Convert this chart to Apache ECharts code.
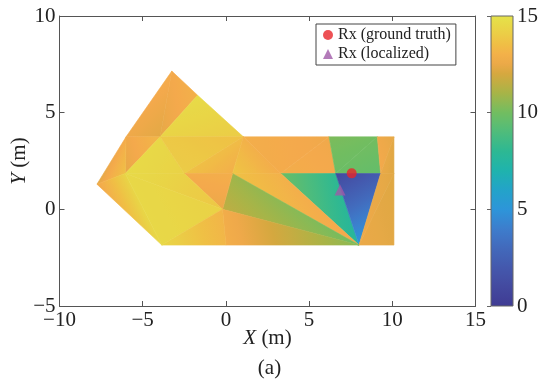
<!DOCTYPE html>
<html>
<head>
<meta charset="utf-8">
<script src="https://cdn.jsdelivr.net/npm/echarts@6/dist/echarts.min.js"></script>
<style>
  html, body { margin: 0; background: #fff; }
  #chart { width: 539px; height: 385px; }
</style>
</head>
<body>
<div id="chart"></div>
<script>
// mesh vertices (m)
const vx = [-7.75, -6.00, -3.25, -1.70, 1.05, -3.95, -6.05, -3.85, -0.20, -2.50, 0.40,
            3.30, 6.20, 9.10, 10.10, 6.60, 9.30, 10.10, 10.10, 8.00, 0.00]
const vy = [1.30, 3.75, 7.15, 5.90, 3.75, 3.75, 1.85, -1.85, 0.00, 1.85, 1.85,
            1.85, 3.75, 3.75, 3.75, 1.85, 1.85, 1.85, -1.85, -1.85, -1.85]
// triangles (vertex indices) and corner values
const tris = [
  [2, 3, 5], [2, 5, 1], [3, 4, 5], [1, 5, 6], [5, 9, 6], [5, 4, 9], [4, 10, 9],
  [4, 11, 10], [4, 12, 11], [12, 15, 11], [12, 13, 15], [13, 16, 15], [13, 14, 16],
  [14, 17, 16], [11, 15, 19], [15, 16, 19], [16, 17, 19], [17, 18, 19], [10, 11, 19],
  [8, 10, 19], [8, 19, 20], [9, 8, 10], [0, 1, 6], [0, 6, 7], [6, 9, 8], [6, 8, 7],
  [7, 8, 20]
]
const triVals = [
  [12.7, 13.0, 12.4], [12.8, 12.3, 12.6], [14.6, 14.0, 14.3], [12.6, 13.2, 12.4],
  [14.5, 14.2, 14.6], [13.9, 13.6, 14.0], [13.4, 12.9, 13.6], [13.0, 12.8, 13.8],
  [12.9, 12.6, 12.8], [12.6, 12.7, 12.9], [10.2, 10.0, 9.8], [10.0, 9.6, 9.8],
  [12.6, 12.4, 12.7], [12.3, 12.2, 12.5], [9.8, 8.0, 7.6], [1.0, 2.2, 5.2],
  [12.4, 12.3, 12.6], [12.2, 12.3, 12.5], [13.6, 13.0, 12.6], [11.5, 10.8, 10.0],
  [12.8, 10.4, 12.9], [12.8, 12.5, 12.9], [12.3, 12.8, 13.6], [12.6, 14.3, 14.5],
  [14.6, 14.2, 13.8], [14.5, 14.2, 14.5], [14.4, 13.1, 13.2]
]
const rxTrue = [[7.56, 1.86]]
const rxLoc = [[6.86, 1.0]]
const cbarRange = [0, 15]

// colormap sampled off the colour bar
const cmapVals = [0, 1, 2, 3, 4, 5, 6, 7, 8, 9, 10, 11, 12, 12.7, 13.5, 14.3, 15]
const cmapColors = ['#3f3b93', '#43499f', '#4458ad', '#4269bb', '#3d7dcc', '#2d95d9',
  '#23a3c9', '#1fb3ad', '#2db893', '#4fbc7b', '#72bd60', '#a7b447', '#d6a83f',
  '#f4a94c', '#f0be45', '#e9d446', '#e5e34a']

function hex(c) { return [1, 3, 5].map(i => parseInt(c.slice(i, i + 2), 16)) }
const cmapRgb = cmapColors.map(hex)

function cmap(v) {
  v = Math.max(cmapVals[0], Math.min(cmapVals[cmapVals.length - 1], v))
  let i = 0
  while (i < cmapVals.length - 2 && v > cmapVals[i + 1]) i++
  const t = (v - cmapVals[i]) / (cmapVals[i + 1] - cmapVals[i])
  const a = cmapRgb[i], b = cmapRgb[i + 1]
  return 'rgb(' + a.map((x, j) => Math.round(x + (b[j] - x) * t)).join(',') + ')'
}

// linear gradient across a triangle following its value slope
function triFill(p, v) {
  const [x0, y0] = p[0], [x1, y1] = p[1], [x2, y2] = p[2]
  const det = (x1 - x0) * (y2 - y0) - (x2 - x0) * (y1 - y0)
  const lo = Math.min(...v), hi = Math.max(...v)
  if (Math.abs(det) < 1e-9 || hi - lo < 0.05) return cmap((lo + hi) / 2)
  const a = ((v[1] - v[0]) * (y2 - y0) - (v[2] - v[0]) * (y1 - y0)) / det
  const b = ((x1 - x0) * (v[2] - v[0]) - (x2 - x0) * (v[1] - v[0])) / det
  const g2 = a * a + b * b
  const s0 = (lo - v[0]) / g2, s1 = (hi - v[0]) / g2
  const stops = []
  for (let i = 0; i <= 8; i++) stops.push({ offset: i / 8, color: cmap(lo + (hi - lo) * i / 8) })
  return new echarts.graphic.LinearGradient(x0 + a * s0, y0 + b * s0, x0 + a * s1, y0 + b * s1, stops, true)
}

const serif = 'Liberation Serif'
const minus = v => (v < 0 ? '\u2212' + Math.abs(v) : String(v))
const axisLine = { onZero: false, lineStyle: { color: '#555', width: 1 } }
const tick = { inside: true, length: 5, lineStyle: { color: '#555' } }
const label = { fontFamily: serif, fontSize: 21, color: '#222', formatter: minus }
const nameStyle = {
  fontFamily: serif, fontSize: 21, color: '#222',
  rich: { i: { fontFamily: serif, fontSize: 21, fontStyle: 'italic', color: '#222' } }
}

const chart = echarts.init(document.getElementById('chart'))

chart.setOption({
  animation: false,
  title: {
    text: '(a)', left: 'center', top: 353,
    textStyle: { fontFamily: serif, fontSize: 21, fontWeight: 'normal', color: '#222' }
  },
  legend: {
    data: [{ name: 'Rx (ground truth)', icon: 'circle' }, { name: 'Rx (localized)', icon: 'triangle' }],
    orient: 'vertical', left: 316, top: 24,
    borderColor: '#444', borderWidth: 1, backgroundColor: '#fff',
    padding: [3, 5, 3, 7], itemWidth: 10, itemHeight: 10, itemGap: 3,
    textStyle: { fontFamily: serif, fontSize: 16, color: '#222' }
  },
  grid: [
    { left: 59.5, top: 16, width: 416, height: 290, outerBoundsMode: 'none' },
    { left: 491, top: 16, width: 22, height: 290, outerBoundsMode: 'none' }
  ],
  xAxis: [
    {
      gridIndex: 0, type: 'value', min: -10, max: 15, interval: 5, position: 'bottom',
      axisLine, axisTick: tick, splitLine: { show: false },
      axisLabel: { ...label, margin: 4 },
      name: '{i|X} (m)', nameLocation: 'middle', nameGap: 22, nameMoveOverlap: false,
      nameTextStyle: nameStyle
    },
    {
      gridIndex: 0, type: 'value', min: -10, max: 15, interval: 5, position: 'top',
      axisLine, axisTick: tick, splitLine: { show: false }, axisLabel: { show: false }
    },
    { gridIndex: 1, type: 'value', min: 0, max: 1, show: false }
  ],
  yAxis: [
    {
      gridIndex: 0, type: 'value', min: -5, max: 10, interval: 5, position: 'left',
      axisLine, axisTick: tick, splitLine: { show: false },
      axisLabel: { ...label, margin: 4 },
      name: '{i|Y} (m)', nameLocation: 'middle', nameGap: 30, nameRotate: 90,
      nameMoveOverlap: false, nameTextStyle: nameStyle
    },
    {
      gridIndex: 0, type: 'value', min: -5, max: 10, interval: 5, position: 'right',
      axisLine, axisTick: tick, splitLine: { show: false }, axisLabel: { show: false }
    },
    {
      gridIndex: 1, type: 'value', min: cbarRange[0], max: cbarRange[1], interval: 5,
      position: 'right', axisLine: { show: false },
      axisTick: { inside: true, length: 4, lineStyle: { color: '#666' } },
      splitLine: { show: false }, axisLabel: { ...label, margin: 4 }
    }
  ],
  series: [
    {
      type: 'custom', xAxisIndex: 0, yAxisIndex: 0, silent: true,
      data: tris.map((t, k) => [
        (vx[t[0]] + vx[t[1]] + vx[t[2]]) / 3, (vy[t[0]] + vy[t[1]] + vy[t[2]]) / 3, k
      ]),
      renderItem(params, api) {
        const k = api.value(2)
        const pts = tris[k].map(i => api.coord([vx[i], vy[i]]))
        const fill = triFill(pts, triVals[k])
        return {
          type: 'polygon', shape: { points: pts },
          style: { fill, stroke: fill, lineWidth: 0.6 }
        }
      }
    },
    {
      name: 'Rx (ground truth)', type: 'scatter', xAxisIndex: 0, yAxisIndex: 0,
      data: rxTrue, symbol: 'circle', symbolSize: 10, z: 5,
      itemStyle: { color: '#e8262b' }
    },
    {
      name: 'Rx (localized)', type: 'scatter', xAxisIndex: 0, yAxisIndex: 0,
      data: rxLoc, symbol: 'triangle', symbolSize: 11, z: 5,
      itemStyle: { color: '#a05aa8' }
    },
    {
      type: 'custom', xAxisIndex: 2, yAxisIndex: 2, silent: true,
      data: [[0.5, cbarRange[1]]],
      renderItem(params, api) {
        const top = api.coord([0, cbarRange[1]]), bot = api.coord([0, cbarRange[0]])
        const cs = params.coordSys
        const stops = []
        for (let i = 0; i <= 30; i++) {
          stops.push({ offset: i / 30, color: cmap(cbarRange[0] + (cbarRange[1] - cbarRange[0]) * i / 30) })
        }
        return {
          type: 'rect',
          shape: { x: cs.x, y: top[1], width: cs.width, height: bot[1] - top[1] },
          style: { fill: new echarts.graphic.LinearGradient(0, 1, 0, 0, stops), stroke: '#666', lineWidth: 1 }
        }
      }
    }
  ]
})

window.addEventListener('resize', () => chart.resize())
</script>
</body>
</html>
